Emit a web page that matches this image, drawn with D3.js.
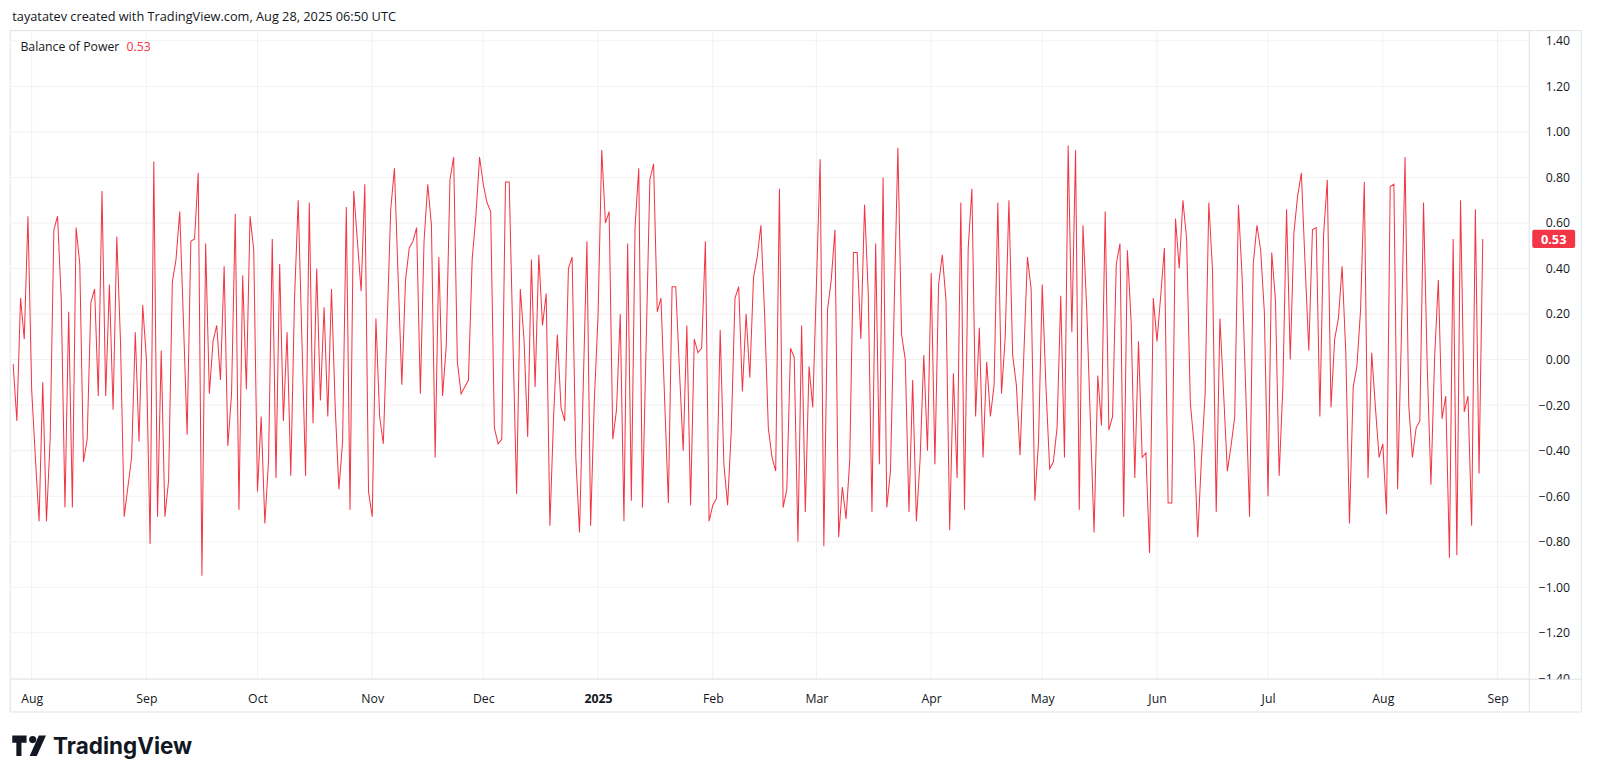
<!DOCTYPE html>
<html><head><meta charset="utf-8">
<script src="https://cdn.jsdelivr.net/npm/d3@7"></script>
<style>body{margin:0;background:#fff;font-family:"Open Sans","Noto Sans",sans-serif}</style>
</head><body>
<svg id="c" width="1600" height="778"></svg>
<script>
const bopValues = [
 -0.02,-0.27,0.27,0.09,0.63,-0.13,-0.43,-0.71,-0.10,-0.71,-0.35,0.57,0.63,0.26,-0.65,0.21,-0.65,0.58,0.42,-0.45,-0.35,0.25,0.31,-0.16,0.74,-0.16,0.33,-0.22,0.54,0.08,-0.69,-0.56,-0.43,
 0.12,-0.36,0.24,0.00,-0.81,0.87,-0.69,0.04,-0.69,-0.53,0.34,0.44,0.65,0.17,-0.33,0.52,0.53,0.82,-0.95,0.51,-0.15,0.08,0.15,-0.09,0.41,-0.38,-0.15,0.64,-0.66,0.37,-0.13,0.63,0.48,-0.58,
 -0.25,-0.72,-0.44,0.53,-0.52,0.42,-0.27,0.12,-0.51,0.26,0.70,0.09,-0.51,0.69,-0.28,0.40,-0.18,0.23,-0.25,0.31,-0.21,-0.57,-0.36,0.67,-0.66,0.74,0.52,0.30,0.77,-0.58,-0.69,0.18,-0.25,-0.37,
 0.14,0.66,0.84,0.36,-0.11,0.35,0.49,0.52,0.58,-0.15,0.52,0.77,0.59,-0.43,0.45,-0.16,0.06,0.79,0.89,-0.01,-0.15,-0.12,-0.09,0.44,0.63,0.89,0.77,0.69,0.65,-0.30,-0.37,-0.35,
 0.78,0.78,0.09,-0.59,0.31,0.09,-0.34,0.44,-0.12,0.46,0.15,0.29,-0.73,-0.25,0.11,-0.21,-0.27,0.40,0.45,-0.43,-0.76,-0.12,0.52,-0.73,-0.18,0.19,0.92,0.60,0.65,-0.35,-0.22,0.20,-0.71,
 0.51,-0.62,0.58,0.84,-0.65,0.07,0.79,0.86,0.21,0.27,-0.18,-0.63,0.32,0.32,-0.05,-0.40,0.15,-0.64,0.09,0.03,0.05,0.52,-0.71,-0.64,-0.61,0.13,-0.46,-0.64,-0.31,0.27,0.32,
 -0.14,0.20,-0.08,0.36,0.45,0.59,0.20,-0.30,-0.43,-0.49,0.75,-0.65,-0.57,0.05,0.01,-0.80,0.15,-0.67,-0.03,-0.21,0.33,0.88,-0.82,0.22,0.35,0.57,-0.78,-0.56,-0.70,-0.44,0.47,0.47,0.09,
 0.68,0.29,-0.67,0.51,-0.46,0.80,-0.65,-0.49,0.23,0.93,0.11,0.00,-0.67,-0.09,-0.71,-0.44,0.02,-0.40,0.38,-0.46,0.33,0.46,0.26,-0.75,-0.06,-0.52,0.69,-0.66,0.49,0.75,-0.25,0.14,
 -0.43,-0.01,-0.25,-0.11,0.69,-0.15,0.10,0.70,0.02,-0.11,-0.42,0.01,0.45,0.31,-0.62,-0.36,0.33,-0.12,-0.48,-0.45,-0.30,0.28,-0.43,0.94,0.12,0.92,-0.66,0.59,0.23,-0.27,-0.76,-0.07,-0.29,
 0.65,-0.31,-0.25,0.42,0.51,-0.69,0.48,0.17,-0.52,0.08,-0.43,-0.41,-0.85,0.27,0.08,0.28,0.49,-0.63,-0.63,0.62,0.40,0.70,0.53,-0.19,-0.37,-0.78,-0.44,-0.15,0.69,0.39,-0.67,0.18,
 -0.15,-0.49,-0.38,-0.25,0.68,0.36,-0.15,-0.69,0.42,0.59,0.48,0.21,-0.60,0.47,0.26,-0.51,-0.12,0.66,0.00,0.56,0.72,0.82,0.42,0.04,0.57,0.58,-0.25,0.55,0.79,-0.21,0.09,0.18,0.41,
 0.03,-0.72,-0.12,-0.03,0.22,0.78,-0.52,0.03,-0.21,-0.43,-0.37,-0.68,0.76,0.77,-0.57,0.09,0.89,-0.20,-0.43,-0.30,-0.27,0.69,-0.03,-0.55,0.01,0.35,-0.26,-0.16,-0.87,0.53,-0.86,0.70,-0.23,-0.16,-0.73,0.66,-0.50,0.53
];
const yTicks = [1.4,1.2,1.0,0.8,0.6,0.4,0.2,0,-0.2,-0.4,-0.6,-0.8,-1.0,-1.2,-1.4];
const monthTicks = ["2024-08-01","2024-09-01","2024-10-01","2024-11-01","2024-12-01","2025-01-01","2025-02-01","2025-03-01","2025-04-01","2025-05-01","2025-06-01","2025-07-01","2025-08-01","2025-09-01"];
const monthLabels = ["Aug","Sep","Oct","Nov","Dec","2025","Feb","Mar","Apr","May","Jun","Jul","Aug","Sep"];
const lastDate = "2025-08-28";

const root = d3.select("#c").append("g").attr("transform","scale(1.0215)");
const svg = root;
const L=10,R=1497,T=30,B=665,AR=1548;
const DAY=864e5;
const end = new Date(lastDate+"T00:00:00Z");
const N = bopValues.length;
const data = bopValues.map((v,i)=>({d:new Date(end - (N-1-i)*DAY), v}));
const x = d3.scaleUtc().domain([new Date(Date.UTC(2024,6,26,5)), new Date(Date.UTC(2025,8,9,13))]).range([L,R]);
const y = d3.scaleLinear().domain([-1.4,1.4]).range([664,40]);
const tcol="#131722", grid="#f2f2f2", red="#F23645";

svg.append("text").attr("x",12).attr("y",21).attr("font-size",12.5).attr("fill",tcol).text("tayatatev created with TradingView.com, Aug 28, 2025 06:50 UTC");
svg.append("rect").attr("x",L).attr("y",T).attr("width",AR-L).attr("height",697-T).attr("fill","none").attr("stroke","#e0e3eb");
const g=svg.append("g");
yTicks.forEach(t=>g.append("line").attr("x1",L).attr("x2",R).attr("y1",y(t)).attr("y2",y(t)).attr("stroke",grid));
monthTicks.forEach(s=>{const xx=x(new Date(s+"T00:00:00Z")); g.append("line").attr("x1",xx).attr("x2",xx).attr("y1",T).attr("y2",B).attr("stroke",grid);});
svg.append("line").attr("x1",R).attr("x2",R).attr("y1",T).attr("y2",697).attr("stroke","#e0e3eb");
svg.append("line").attr("x1",L).attr("x2",AR).attr("y1",B).attr("y2",B).attr("stroke","#e0e3eb");
const defs=svg.append("defs");
defs.append("clipPath").attr("id","cp").append("rect").attr("x",L).attr("y",T).attr("width",R-L).attr("height",B-T);
defs.append("clipPath").attr("id","cpa").append("rect").attr("x",R).attr("y",T).attr("width",AR-R).attr("height",B-T);
const yWrap=svg.append("g").attr("clip-path","url(#cpa)");
const yAx=d3.axisRight(y).tickValues(yTicks).tickSize(0).tickFormat(d3.format(".2f"));
const ya=yWrap.append("g").attr("transform",`translate(${AR-11},0)`).call(yAx);
ya.select(".domain").remove();
ya.selectAll("text").attr("x",0).attr("text-anchor","end").attr("font-size",12).attr("fill",tcol).attr("font-family","Open Sans, sans-serif");
const xAx=d3.axisBottom(x).tickValues(monthTicks.map(s=>new Date(s+"T00:00:00Z"))).tickSize(0).tickFormat((d,i)=>monthLabels[i]);
const xa=svg.append("g").attr("transform",`translate(0,${B+12})`).call(xAx);
xa.select(".domain").remove();
xa.selectAll("text").attr("font-size",12).attr("fill",tcol).attr("font-family","Open Sans, sans-serif")
  .attr("font-weight",(d,i)=>monthLabels[i]==="2025"?"bold":"normal");
const line=d3.line().x(d=>x(d.d)).y(d=>y(d.v));
svg.append("path").datum(data).attr("d",line).attr("fill","none").attr("stroke",red).attr("stroke-width",1).attr("clip-path","url(#cp)");
const lg=svg.append("text").attr("x",20).attr("y",50).attr("font-size",12).attr("fill",tcol);
lg.append("tspan").text("Balance of Power");
lg.append("tspan").attr("dx",7).attr("fill",red).text(d3.format(".2f")(bopValues[N-1]));
const ly=y(bopValues[N-1]);
svg.append("rect").attr("x",R+3).attr("y",ly-9).attr("width",42).attr("height",18).attr("rx",2).attr("fill",red);
svg.append("text").attr("x",R+24).attr("y",ly+4.5).attr("text-anchor","middle").attr("font-size",12.5).attr("font-weight","bold").attr("fill","#fff").text(d3.format(".2f")(bopValues[N-1]));
const lgG=svg.append("g").attr("transform","translate(12,720)");
lgG.append("path").attr("d","M0 0H14V7H9V20H4V7H0Z").attr("fill",tcol);
lgG.append("circle").attr("cx",20).attr("cy",4).attr("r",3.5).attr("fill",tcol);
lgG.append("path").attr("d","M26 0H33L24 20H17Z").attr("fill",tcol);
svg.append("text").attr("x",52).attr("y",738).attr("font-size",22).attr("font-weight","bold").attr("fill",tcol).attr("font-family","Inter, Roboto, sans-serif").text("TradingView");
</script>
</body></html>
